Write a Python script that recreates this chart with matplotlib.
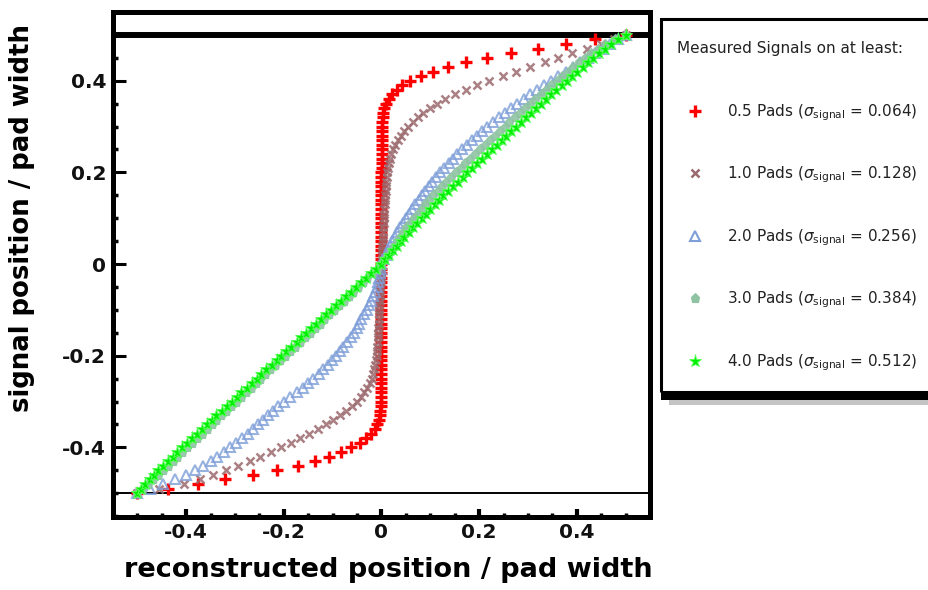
import matplotlib
matplotlib.use("Agg")
import matplotlib.pyplot as plt
from matplotlib.patches import Rectangle
from matplotlib.ticker import FixedLocator, MultipleLocator

plt.rcParams['font.family'] = ['DejaVu Sans']
plt.rcParams['axes.unicode_minus'] = False
plt.rcParams['mathtext.fontset'] = 'dejavusans'

# ---------------- data ----------------
# true signal position (y) for every sample
SIGNAL_POS = [
    -0.50, -0.49, -0.48, -0.47, -0.46, -0.45, -0.44, -0.43, -0.42, -0.41,
    -0.40, -0.39, -0.38, -0.37, -0.36, -0.35, -0.34, -0.33, -0.32, -0.31,
    -0.30, -0.29, -0.28, -0.27, -0.26, -0.25, -0.24, -0.23, -0.22, -0.21,
    -0.20, -0.19, -0.18, -0.17, -0.16, -0.15, -0.14, -0.13, -0.12, -0.11,
    -0.10, -0.09, -0.08, -0.07, -0.06, -0.05, -0.04, -0.03, -0.02, -0.01,
    0.00, 0.01, 0.02, 0.03, 0.04, 0.05, 0.06, 0.07, 0.08, 0.09,
    0.10, 0.11, 0.12, 0.13, 0.14, 0.15, 0.16, 0.17, 0.18, 0.19,
    0.20, 0.21, 0.22, 0.23, 0.24, 0.25, 0.26, 0.27, 0.28, 0.29,
    0.30, 0.31, 0.32, 0.33, 0.34, 0.35, 0.36, 0.37, 0.38, 0.39,
    0.40, 0.41, 0.42, 0.43, 0.44, 0.45, 0.46, 0.47, 0.48, 0.49,
    0.50,
]

# reconstructed position (x) for each series
RECO_05 = [
    -0.500, -0.438, -0.376, -0.320, -0.264, -0.215, -0.172, -0.136, -0.107, -0.082,
    -0.062, -0.044, -0.031, -0.021, -0.014, -0.009, -0.006, -0.004, -0.003, -0.002,
    -0.001, -0.001, -0.001, -0.001, -0.001, -0.001, -0.001, -0.001, -0.001, -0.001,
    0.000, 0.000, 0.000, 0.000, 0.000, 0.000, 0.000, 0.000, 0.000, 0.000,
    0.000, 0.000, 0.000, 0.000, 0.000, 0.000, 0.000, 0.000, 0.000, 0.000,
    0.000, 0.000, 0.000, 0.000, 0.000, 0.000, 0.000, 0.000, 0.000, 0.000,
    0.000, 0.000, 0.000, 0.000, 0.000, 0.000, 0.000, 0.000, 0.000, 0.000,
    0.000, 0.001, 0.001, 0.001, 0.001, 0.001, 0.001, 0.001, 0.001, 0.001,
    0.001, 0.002, 0.003, 0.004, 0.006, 0.010, 0.015, 0.021, 0.031, 0.043,
    0.059, 0.080, 0.106, 0.137, 0.174, 0.217, 0.266, 0.320, 0.377, 0.438,
    0.500,
]
RECO_10 = [
    -0.500, -0.455, -0.405, -0.372, -0.345, -0.318, -0.293, -0.270, -0.248, -0.227,
    -0.206, -0.186, -0.167, -0.149, -0.131, -0.114, -0.099, -0.085, -0.072, -0.061,
    -0.051, -0.042, -0.035, -0.029, -0.024, -0.020, -0.017, -0.015, -0.013, -0.011,
    -0.010, -0.009, -0.009, -0.008, -0.008, -0.007, -0.007, -0.006, -0.006, -0.005,
    -0.005, -0.005, -0.004, -0.004, -0.003, -0.003, -0.002, -0.002, -0.001, -0.001,
    0.000, 0.001, 0.001, 0.002, 0.002, 0.003, 0.003, 0.004, 0.004, 0.005,
    0.005, 0.006, 0.006, 0.007, 0.007, 0.008, 0.009, 0.009, 0.010, 0.011,
    0.012, 0.013, 0.015, 0.017, 0.020, 0.024, 0.028, 0.034, 0.040, 0.047,
    0.055, 0.064, 0.074, 0.086, 0.099, 0.114, 0.131, 0.151, 0.173, 0.196,
    0.221, 0.248, 0.276, 0.305, 0.334, 0.362, 0.391, 0.420, 0.449, 0.476,
    0.500,
]
RECO_20 = [
    -0.500, -0.474, -0.447, -0.422, -0.400, -0.382, -0.366, -0.350, -0.336, -0.323,
    -0.310, -0.298, -0.286, -0.274, -0.263, -0.252, -0.242, -0.232, -0.222, -0.212,
    -0.200, -0.187, -0.174, -0.161, -0.150, -0.140, -0.129, -0.119, -0.110, -0.101,
    -0.093, -0.086, -0.078, -0.070, -0.063, -0.057, -0.051, -0.046, -0.041, -0.036,
    -0.030, -0.026, -0.021, -0.017, -0.013, -0.010, -0.007, -0.005, -0.003, -0.002,
    0.000, 0.004, 0.009, 0.013, 0.017, 0.022, 0.027, 0.032, 0.038, 0.044,
    0.050, 0.056, 0.063, 0.069, 0.076, 0.083, 0.090, 0.097, 0.104, 0.112,
    0.120, 0.129, 0.138, 0.146, 0.155, 0.165, 0.175, 0.185, 0.195, 0.205,
    0.216, 0.228, 0.240, 0.252, 0.265, 0.278, 0.291, 0.305, 0.319, 0.333,
    0.347, 0.362, 0.377, 0.392, 0.407, 0.423, 0.438, 0.454, 0.469, 0.485,
    0.500,
]
RECO_30 = [
    -0.500, -0.490, -0.479, -0.469, -0.458, -0.448, -0.438, -0.428, -0.418, -0.408,
    -0.398, -0.388, -0.378, -0.368, -0.358, -0.348, -0.338, -0.328, -0.318, -0.308,
    -0.298, -0.288, -0.278, -0.268, -0.258, -0.248, -0.238, -0.228, -0.218, -0.208,
    -0.197, -0.187, -0.177, -0.167, -0.157, -0.147, -0.137, -0.127, -0.117, -0.107,
    -0.097, -0.087, -0.077, -0.067, -0.058, -0.048, -0.038, -0.029, -0.019, -0.010,
    0.000, 0.006, 0.013, 0.019, 0.025, 0.031, 0.037, 0.044, 0.051, 0.058,
    0.066, 0.074, 0.082, 0.090, 0.098, 0.106, 0.115, 0.124, 0.133, 0.142,
    0.152, 0.162, 0.172, 0.182, 0.192, 0.202, 0.212, 0.222, 0.232, 0.242,
    0.252, 0.262, 0.273, 0.283, 0.294, 0.304, 0.315, 0.326, 0.337, 0.348,
    0.359, 0.370, 0.382, 0.393, 0.405, 0.417, 0.429, 0.443, 0.457, 0.478,
    0.500,
]
RECO_40 = [
    -0.500, -0.492, -0.484, -0.475, -0.466, -0.457, -0.447, -0.437, -0.427, -0.418,
    -0.408, -0.398, -0.388, -0.378, -0.368, -0.358, -0.348, -0.338, -0.327, -0.317,
    -0.307, -0.297, -0.287, -0.276, -0.266, -0.256, -0.246, -0.236, -0.225, -0.215,
    -0.205, -0.195, -0.185, -0.174, -0.164, -0.154, -0.144, -0.134, -0.123, -0.113,
    -0.103, -0.093, -0.083, -0.072, -0.062, -0.052, -0.042, -0.031, -0.021, -0.011,
    0.000, 0.008, 0.016, 0.024, 0.031, 0.039, 0.047, 0.056, 0.064, 0.073,
    0.082, 0.091, 0.100, 0.109, 0.118, 0.127, 0.137, 0.146, 0.156, 0.166,
    0.176, 0.186, 0.196, 0.206, 0.216, 0.226, 0.236, 0.246, 0.256, 0.266,
    0.276, 0.286, 0.296, 0.306, 0.316, 0.327, 0.337, 0.348, 0.358, 0.369,
    0.380, 0.390, 0.401, 0.412, 0.423, 0.434, 0.446, 0.458, 0.471, 0.485,
    0.500,
]

SERIES_LABELS = [
    r"0.5 Pads ($\sigma_{\mathrm{signal}}$ = 0.064)",
    r"1.0 Pads ($\sigma_{\mathrm{signal}}$ = 0.128)",
    r"2.0 Pads ($\sigma_{\mathrm{signal}}$ = 0.256)",
    r"3.0 Pads ($\sigma_{\mathrm{signal}}$ = 0.384)",
    r"4.0 Pads ($\sigma_{\mathrm{signal}}$ = 0.512)",
]
LEGEND_TITLE = "Measured Signals on at least:"
X_LABEL = "reconstructed position / pad width"
Y_LABEL = "signal position / pad width"
TICKS = [-0.4, -0.2, 0.0, 0.2, 0.4]
TICK_LABELS = ["-0.4", "-0.2", "0", "0.2", "0.4"]
LIMIT_LINES = [0.5, -0.5]

# ---------------- figure ----------------
W, H = 929, 590
fig = plt.figure(figsize=(W / 100, H / 100), dpi=100)
fig.patch.set_facecolor('white')

def fx(px):
    return px / W

def fy(py):
    return 1 - py / H

ax = fig.add_axes([fx(113), fy(517), fx(650) - fx(113), fy(12) - fy(517)])
ax.set_xlim(-0.55, 0.55)
ax.set_ylim(-0.552, 0.55)

# limit lines
ax.axhline(LIMIT_LINES[0], color='black', lw=4.3, zorder=1)
ax.axhline(LIMIT_LINES[1], color='black', lw=1.4, zorder=1)

styles = [
    dict(marker='+', color='#ff0000', ms=8.5, mew=2.4, alpha=1.0),
    dict(marker='x', color='#9b6a6e', ms=6.0, mew=1.8, alpha=0.85),
    dict(marker='^', color='#7f9fd9', mfc='none', ms=7.0, mew=1.5, alpha=0.8),
    dict(marker='p', color='#8fc3a3', ms=6.5, mew=0.8, alpha=0.9),
    dict(marker='*', color='#00ee00', mec='#55ff55', ms=9.5, mew=0.6, alpha=1.0),
]
series = [RECO_05, RECO_10, RECO_20, RECO_30, RECO_40]
handles = []
for xs, lab, st in zip(series, SERIES_LABELS, styles):
    h, = ax.plot(xs, SIGNAL_POS, linestyle='none', label=lab, zorder=2, **st)
    handles.append(h)

# axes styling
for s in ax.spines.values():
    s.set_linewidth(3.6)
ax.xaxis.set_major_locator(FixedLocator(TICKS))
ax.yaxis.set_major_locator(FixedLocator(TICKS))
ax.set_xticklabels(TICK_LABELS)
ax.set_yticklabels(TICK_LABELS)
ax.xaxis.set_minor_locator(MultipleLocator(0.05))
ax.yaxis.set_minor_locator(MultipleLocator(0.05))
ax.tick_params(which='both', direction='in', top=False, right=False)
ax.tick_params(axis='x', which='major', length=6, width=3, pad=4)
ax.tick_params(axis='x', which='minor', length=3, width=2.5)
ax.tick_params(axis='y', which='major', length=9, width=2.2, pad=5)
ax.tick_params(axis='y', which='minor', length=3.5, width=2.5)
for lbl in ax.get_xticklabels() + ax.get_yticklabels():
    lbl.set_fontsize(14.5)
    lbl.set_fontweight('bold')
    lbl.set_color('#111111')

fig.text(fx(388), fy(570), X_LABEL, ha='center', va='center',
         fontsize=19.5, fontweight='bold')
fig.text(fx(22), fy(218), Y_LABEL, ha='center', va='center', rotation=90,
         fontsize=18.7, fontweight='bold')

# legend box with shadow
fig.add_artist(Rectangle((fx(661), fy(392)), fx(960) - fx(661), fy(19) - fy(392),
                         transform=fig.transFigure, fill=False, ec='black', lw=2.2,
                         clip_on=False))
fig.add_artist(Rectangle((fx(661), fy(400)), fx(960) - fx(661), fy(391) - fy(400),
                         transform=fig.transFigure, color='black', lw=0, clip_on=False))
fig.add_artist(Rectangle((fx(669), fy(405)), fx(960) - fx(669), fy(400) - fy(405),
                         transform=fig.transFigure, color='#c4c4c4', lw=0, clip_on=False))
fig.text(fx(677), fy(48.6), LEGEND_TITLE, ha='left', va='center', fontsize=11,
         color='#222222')
leg = fig.legend(handles=handles, labels=SERIES_LABELS, loc='upper left',
                 bbox_to_anchor=(fx(677), fy(102)), frameon=False, borderpad=0,
                 borderaxespad=0, handlelength=2.35, handletextpad=0.9,
                 labelspacing=2.75, fontsize=11, numpoints=1)
for t in leg.get_texts():
    t.set_color('#222222')
for lh in leg.legend_handles:
    lh.set_alpha(1.0)

fig.savefig('out.png', dpi=100)
